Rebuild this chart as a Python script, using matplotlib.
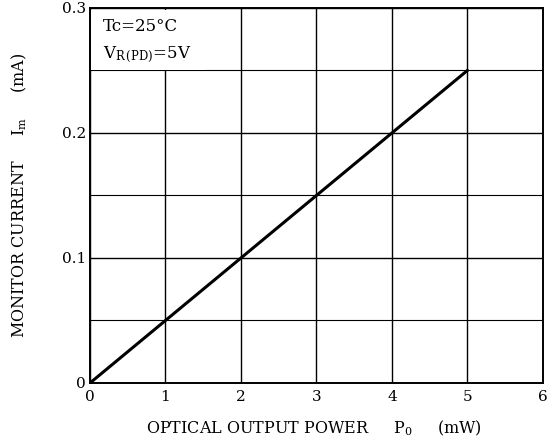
import matplotlib
matplotlib.use('Agg')
import matplotlib.pyplot as plt
from matplotlib.patches import Rectangle

plt.rcParams['font.family'] = 'DejaVu Serif'
plt.rcParams['mathtext.fontset'] = 'dejavuserif'

power = [0, 5]          # Po (mW)
current = [0, 0.25]     # Im (mA)
xticks = [0, 1, 2, 3, 4, 5, 6]
yticks = [0, 0.1, 0.2, 0.3]
ytick_labels = ['0', '0.1', '0.2', '0.3']

fig = plt.figure(figsize=(5.5, 4.48), dpi=100)
ax = fig.add_axes([0.1636, 0.1451, 0.8234, 0.8371])

ax.set_xlim(0, 6)
ax.set_ylim(0, 0.3)
ax.set_xticks(xticks)
ax.set_yticks(yticks)
ax.set_yticklabels(ytick_labels)
ax.set_yticks([0.05, 0.15, 0.25], minor=True)
ax.tick_params(which='both', length=0, labelsize=11)
ax.tick_params(axis='x', pad=5)
ax.tick_params(axis='y', pad=3)

ax.grid(True, which='major', color='black', linewidth=1.0)
ax.grid(True, which='minor', axis='y', color='black', linewidth=0.8)
ax.set_axisbelow(True)

# white box behind the condition text
ax.add_patch(Rectangle((0.02, 0.2505), 1.5, 0.0475, facecolor='white', edgecolor='none', zorder=1.5))
ax.text(0.17, 0.2848, 'Tc=25°C', fontsize=12, va='center', zorder=3)
ax.text(0.17, 0.2624, r'V$_{\mathrm{R\,(PD)}}$=5V', fontsize=12, va='center', zorder=3)

ax.plot(power, current, color='black', linewidth=2.2, zorder=4)

for s in ax.spines.values():
    s.set_linewidth(1.4)
    s.set_zorder(5)

ax.set_xlabel(r'OPTICAL OUTPUT POWER     P$_{\mathrm{0}}$     (mW)', fontsize=11.5, labelpad=15)
ax.set_ylabel(r'MONITOR CURRENT     I$_{\mathrm{m}}$     (mA)', fontsize=11.5)
ax.xaxis.set_label_coords(0.495, -0.095)
ax.yaxis.set_label_coords(-0.135, 0.5)

fig.savefig('out.png', dpi=100)
